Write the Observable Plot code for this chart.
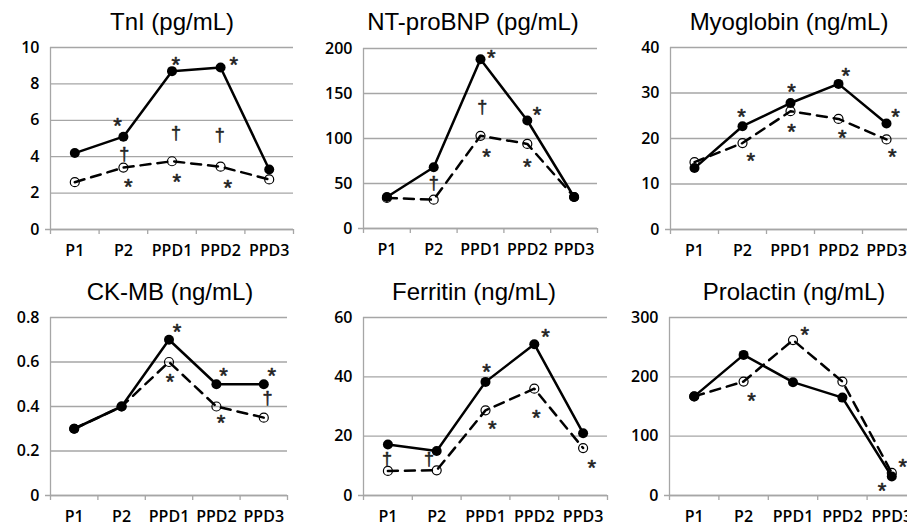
<!DOCTYPE html>
<html><head><meta charset="utf-8">
<script src="https://cdn.jsdelivr.net/npm/d3@7"></script>
<script src="https://cdn.jsdelivr.net/npm/@observablehq/plot@0.6"></script>
<style>
html,body{margin:0;padding:0;background:#fff;overflow:hidden;}
#chart{position:relative;width:907px;height:529px;overflow:hidden;}
.panel{position:absolute;}
.title{position:absolute;font-family:"Liberation Sans",Arial,sans-serif;font-size:24px;line-height:24px;text-align:center;color:#000;white-space:nowrap;}
</style></head><body><div id="chart"></div>
<script>
// ---- data ----
const categories = ["P1", "P2", "PPD1", "PPD2", "PPD3"];
const titles = ["TnI (pg/mL)", "NT-proBNP (pg/mL)", "Myoglobin (ng/mL)", "CK-MB (ng/mL)", "Ferritin (ng/mL)", "Prolactin (ng/mL)"];

const tniSolid = [4.2, 5.1, 8.7, 8.9, 3.3];
const tniDashed = [2.6, 3.4, 3.75, 3.45, 2.75];
const tniTicks = [0, 2, 4, 6, 8, 10];
const tniNotes = [[1, 5.88, "*", -0.12], [1, 4.15, "†", 0.02], [1, 2.53, "*", 0.1], [2, 9.18, "*", 0.08], [2, 5.27, "†", 0.08], [2, 2.75, "*", 0.1], [3, 9.23, "*", 0.27], [3, 5.16, "†", -0.02], [3, 2.47, "*", 0.15]];

const bnpSolid = [35, 68, 188, 120, 35];
const bnpDashed = [34, 32, 103, 94, 35];
const bnpTicks = [0, 50, 100, 150, 200];
const bnpNotes = [[1, 50, "†", 0], [2, 193, "*", 0.23], [2, 135, "†", 0.04], [2, 83, "*", 0.13], [3, 129, "*", 0.21], [3, 72, "*", 0]];

const myoSolid = [13.5, 22.7, 27.8, 32, 23.3];
const myoDashed = [14.8, 19, 26, 24.3, 19.8];
const myoTicks = [0, 10, 20, 30, 40];
const myoNotes = [[1, 25.5, "*", -0.02], [1, 15.8, "*", 0.17], [2, 30.8, "*", 0.02], [2, 22.2, "*", 0.02], [3, 34.3, "*", 0.15], [3, 20.7, "*", 0.08], [4, 25.5, "*", 0.19], [4, 16.7, "*", 0.12]];

const ckSolid = [0.3, 0.4, 0.7, 0.5, 0.5];
const ckDashed = [0.3, 0.4, 0.6, 0.4, 0.35];
const ckTicks = [0, 0.2, 0.4, 0.6, 0.8];
const ckNotes = [[2, 0.75, "*", 0.17], [2, 0.525, "*", 0.02], [3, 0.553, "*", 0.15], [3, 0.34, "*", 0.1], [4, 0.553, "*", 0.17], [4, 0.435, "†", 0.08]];

const ferSolid = [17.2, 15, 38.3, 51, 21];
const ferDashed = [8.3, 8.5, 28.7, 36, 16];
const ferTicks = [0, 20, 40, 60];
const ferNotes = [[0, 12.1, "†", -0.02], [1, 12.1, "†", -0.16], [2, 42.8, "*", 0.02], [2, 23.6, "*", 0.14], [3, 54.6, "*", 0.23], [3, 27, "*", 0.04], [4, 10.4, "*", 0.18]];

const prlSolid = [167, 237, 191, 165, 32];
const prlDashed = [167, 192, 262, 192, 38];
const prlTicks = [0, 100, 200, 300];
const prlNotes = [[1, 165, "*", 0.16], [2, 276, "*", 0.24], [4, 54, "*", 0.22], [4, 12, "*", -0.2]];

// ---- layout ----
const panels = [
  {solid: tniSolid, dashed: tniDashed, ticks: tniTicks, notes: tniNotes},
  {solid: bnpSolid, dashed: bnpDashed, ticks: bnpTicks, notes: bnpNotes},
  {solid: myoSolid, dashed: myoDashed, ticks: myoTicks, notes: myoNotes},
  {solid: ckSolid, dashed: ckDashed, ticks: ckTicks, notes: ckNotes},
  {solid: ferSolid, dashed: ferDashed, ticks: ferTicks, notes: ferNotes},
  {solid: prlSolid, dashed: prlDashed, ticks: prlTicks, notes: prlNotes}
];
const layout = [
  {left: 0,   top: 0,   w: 300, h: 265, mt: 47, mb: 36, ml: 50, mr: 7,  tc: 172, tt: 10},
  {left: 300, top: 0,   w: 307, h: 265, mt: 48, mb: 37, ml: 63, mr: 10, tc: 473, tt: 10},
  {left: 607, top: 0,   w: 308, h: 265, mt: 47, mb: 36, ml: 63, mr: 5,  tc: 789, tt: 10},
  {left: 0,   top: 265, w: 300, h: 264, mt: 52, mb: 34, ml: 50, mr: 13, tc: 170, tt: 280},
  {left: 300, top: 265, w: 307, h: 264, mt: 52, mb: 34, ml: 63, mr: 0,  tc: 474, tt: 280},
  {left: 607, top: 265, w: 314, h: 264, mt: 52, mb: 34, ml: 62, mr: 5,  tc: 794, tt: 280}
];
const GRID = "#a6a6a6";
const chart = document.getElementById("chart");

panels.forEach((p, k) => {
  const L = layout[k];
  const xs = d3.range(categories.length);
  const bounds = d3.range(categories.length + 1).map(i => i - 0.5);
  const solid = xs.map(i => ({x: i, y: p.solid[i]}));
  const dashed = xs.map(i => ({x: i, y: p.dashed[i]}));
  const ann = p.notes.map(([c, y, s, off]) => ({x: c + off, y, s}));
  const svg = Plot.plot({
    width: L.w, height: L.h,
    marginTop: L.mt, marginBottom: L.mb, marginLeft: L.ml, marginRight: L.mr,
    style: {fontFamily: "'Open Sans', sans-serif", fontSize: "16px", fontWeight: 600, color: "#000", background: "transparent", overflow: "visible"},
    x: {domain: [-0.5, categories.length - 0.5], label: null},
    y: {domain: [0, d3.max(p.ticks)], label: null},
    marks: [
      Plot.gridY({ticks: p.ticks, stroke: GRID, strokeOpacity: 1, strokeWidth: 1.3}),
      Plot.ruleY([0], {stroke: GRID, strokeWidth: 1.3, insetLeft: -5}),
      Plot.ruleX([-0.5], {stroke: GRID, strokeWidth: 1.3}),
      Plot.axisX({ticks: bounds, tickSize: 5, stroke: GRID, strokeWidth: 1.3, tickFormat: () => "", label: null}),
      Plot.axisX({ticks: xs, tickSize: 0, tickPadding: 15, tickFormat: i => categories[i], fontSize: 16, label: null}),
      Plot.axisY({ticks: p.ticks, tickSize: 0, tickPadding: 11, fontSize: 16, tickFormat: d => String(d), label: null}),
      Plot.line(dashed, {x: "x", y: "y", stroke: "#000", strokeWidth: 2.5, strokeDasharray: "10,7"}),
      Plot.dot(dashed, {x: "x", y: "y", r: 4.5, fill: "none", stroke: "#000", strokeWidth: 1.2}),
      Plot.line(solid, {x: "x", y: "y", stroke: "#000", strokeWidth: 2.5}),
      Plot.dot(solid, {x: "x", y: "y", r: 5, fill: "#000", stroke: "none"}),
      Plot.text(ann.filter(a => a.s === "*"), {x: "x", y: "y", text: "s", fontSize: 22, fontFamily: "'Liberation Sans', sans-serif", fontWeight: "normal", dy: 3, fill: "#222", stroke: "#222", strokeWidth: 0.6}),
      Plot.text(ann.filter(a => a.s !== "*"), {x: "x", y: "y", text: "s", fontSize: 18, fontFamily: "'Liberation Sans', sans-serif", fontWeight: "normal", fill: "#222", stroke: "#222", strokeWidth: 0.5})
    ]
  });
  svg.classList.add("panel");
  svg.style.left = L.left + "px";
  svg.style.top = L.top + "px";
  chart.appendChild(svg);
  const t = document.createElement("div");
  t.className = "title";
  t.textContent = titles[k];
  t.style.left = (L.tc - 150) + "px";
  t.style.width = "300px";
  t.style.top = L.tt + "px";
  chart.appendChild(t);
});
</script>
</body></html>
